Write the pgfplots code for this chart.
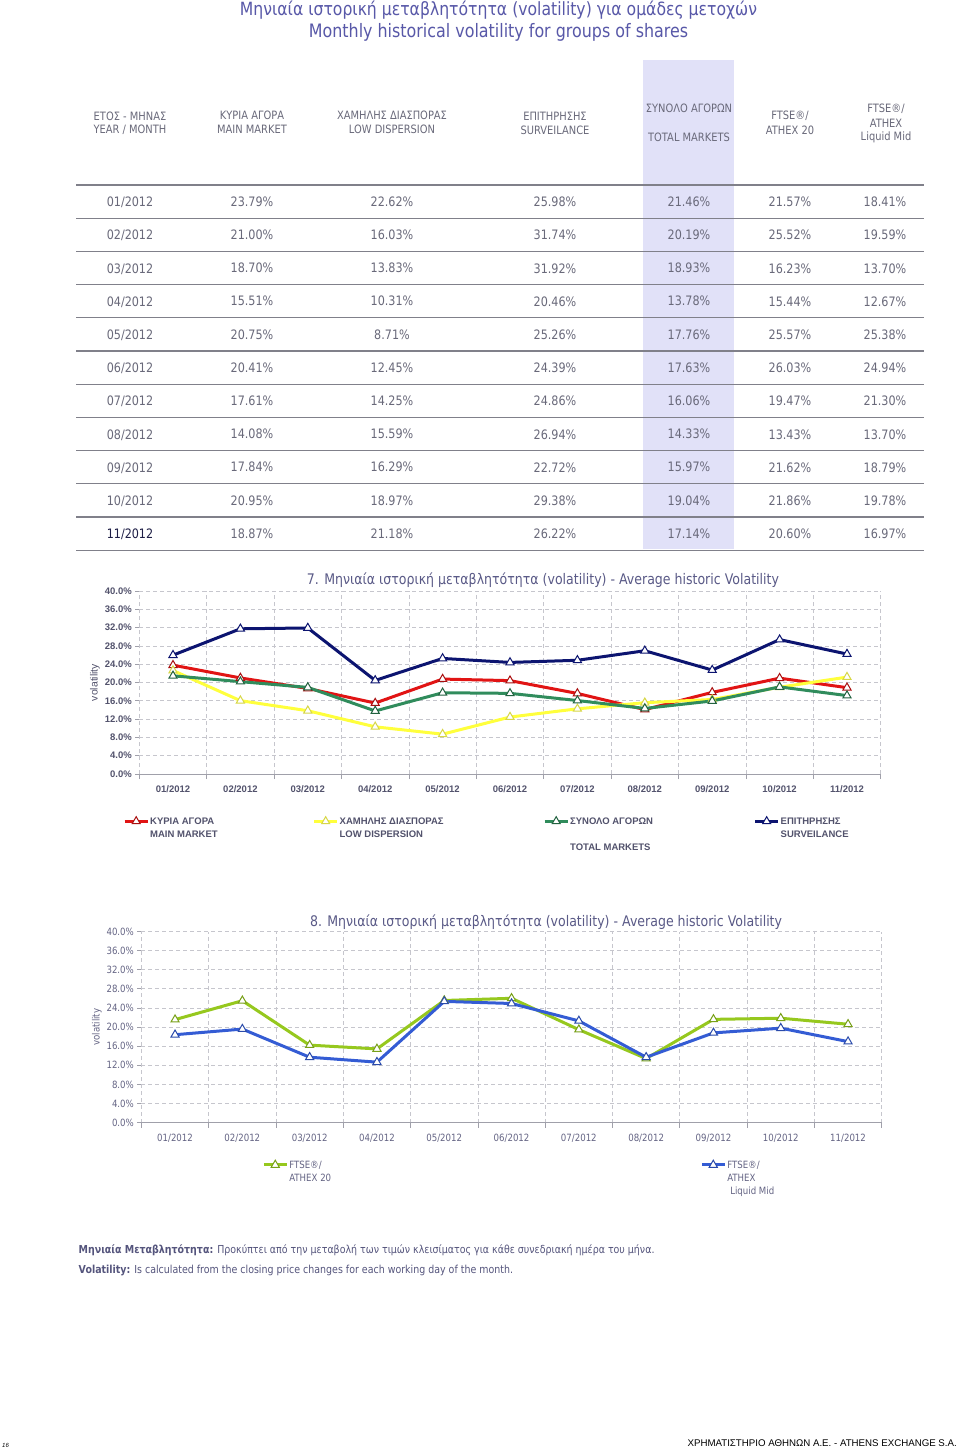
\documentclass[border=0pt]{standalone}
\usepackage{fontspec}
\setmainfont{DejaVu Sans}[FakeStretch=0.86]
\newfontfamily\arialf{Liberation Sans}
\usepackage{pgfplots}
\usepackage{pgfplotstable}
\pgfplotsset{compat=1.18}

\definecolor{ttl}{RGB}{88,88,168}
\definecolor{tabtext}{RGB}{105,105,122}
\definecolor{tabdark}{RGB}{30,30,70}
\definecolor{tabline}{RGB}{128,128,138}
\definecolor{hl}{RGB}{225,225,248}
\definecolor{charttl}{RGB}{90,90,135}
\definecolor{tick7}{RGB}{82,82,108}
\definecolor{tick8}{RGB}{100,100,132}
\definecolor{gridc}{RGB}{198,198,205}
\definecolor{axisc}{RGB}{160,160,170}
\definecolor{note}{RGB}{85,85,125}
\definecolor{red7}{RGB}{225,20,20}
\definecolor{yel7}{RGB}{255,255,60}
\definecolor{yelmk}{RGB}{215,215,70}
\definecolor{grn7}{RGB}{48,140,92}
\definecolor{navy7}{RGB}{12,20,112}
\definecolor{lime8}{RGB}{150,200,30}
\definecolor{blue8}{RGB}{52,92,212}

% month, main market, low dispersion, surveilance, total markets, FTSE/ATHEX 20, Liquid Mid
\pgfplotstableread{
m main  low   surv  total ftse  mid
1 23.79 22.62 25.98 21.46 21.57 18.41
2 21.00 16.03 31.74 20.19 25.52 19.59
3 18.70 13.83 31.92 18.93 16.23 13.70
4 15.51 10.31 20.46 13.78 15.44 12.67
5 20.75 8.71  25.26 17.76 25.57 25.38
6 20.41 12.45 24.39 17.63 26.03 24.94
7 17.61 14.25 24.86 16.06 19.47 21.30
8 14.08 15.59 26.94 14.33 13.43 13.70
9 17.84 16.29 22.72 15.97 21.62 18.79
10 20.95 18.97 29.38 19.04 21.86 19.78
11 18.87 21.18 26.22 17.14 20.60 16.97
}\voldata

\pgfplotsset{
  vol/.style={
    scale only axis,
    /pgf/number format/assume math mode=true,
    xmin=0.5, xmax=11.5, ymin=0, ymax=40,
    xtick={1,...,11},
    xticklabels={01/2012,02/2012,03/2012,04/2012,05/2012,06/2012,07/2012,08/2012,09/2012,10/2012,11/2012},
    minor xtick={0.5,1.5,...,11.5},
    ytick={0,4,...,40},
    yticklabel={\pgfmathprintnumber[fixed,fixed zerofill,precision=1,assume math mode=true]{\tick}\%},
    xminorgrids, ymajorgrids,
    major grid style={draw=gridc, dash pattern=on 4pt off 3pt, line width=0.8pt},
    minor grid style={draw=gridc, dash pattern=on 4pt off 3pt, line width=0.8pt},
    axis x line*=bottom, axis y line*=left,
    x axis line style={draw=axisc, line width=1pt},
    y axis line style={draw=none},
    tick align=outside,
    major tick length=4pt, minor tick length=5pt,
    major x tick style={draw=none},
    minor x tick style={draw=axisc, line width=0.8pt},
    major y tick style={draw=axisc, line width=0.8pt},
    xticklabel style={yshift=-4pt},
    legend image code/.code={\draw[mark repeat=2,mark phase=2] plot coordinates {(0pt,3.4pt)(11.5pt,3.4pt)(23pt,3.4pt)};},
    legend style={draw=none, fill=none, inner sep=0pt, legend columns=4,
      cells={anchor=base west}, nodes={inner sep=0pt, text depth=0pt},
      /tikz/every odd column/.style={column sep=1pt},
      /tikz/every even column/.style={column sep=0pt}},
  },
  ln/.style 2 args={#1, line width=3pt, mark=triangle*, mark size=4.7pt,
    mark options={fill=white, draw=#2, line width=1pt, solid}},
}

\begin{document}
\begin{tikzpicture}[x=1pt,y=1pt]
\path[fill=white, use as bounding box] (0,0) rectangle (960,-1450);

% main title
\node[text=ttl, font=\fontsize{18.2}{22}\selectfont] at (498.5,-10) {Μηνιαία ιστορική μεταβλητότητα (volatility) για ομάδες μετοχών};
\node[text=ttl, font=\fontsize{18.5}{22}\selectfont] at (498.5,-32) {Monthly historical volatility for groups of shares};

% table
\fill[hl] (643,-60) rectangle (734,-549);
\begin{scope}[every node/.style={text=tabtext, font=\fontsize{11.5}{14}\selectfont, align=center}]
\node at (130,-116) {ΕΤΟΣ - ΜΗΝΑΣ};
\node at (130,-130) {YEAR / MONTH};
\node at (252,-115) {ΚΥΡΙΑ ΑΓΟΡΑ};
\node at (252,-129) {MAIN MARKET};
\node at (392,-115) {ΧΑΜΗΛΗΣ ΔΙΑΣΠΟΡΑΣ};
\node at (392,-129) {LOW DISPERSION};
\node at (555,-116) {ΕΠΙΤΗΡΗΣΗΣ};
\node at (555,-130) {SURVEILANCE};
\node at (689,-108) {ΣΥΝΟΛΟ ΑΓΟΡΩΝ};
\node at (689,-137) {TOTAL MARKETS};
\node at (790,-116) {FTSE®/};
\node at (790,-130) {ATHEX 20};
\node at (886,-109) {FTSE®/};
\node at (886,-123) {ATHEX};
\node at (886,-137) {Liquid Mid};
\end{scope}
\foreach \k in {0,...,11}
  \draw[tabline, line width=1.3pt] (76,{-185-33.2*\k}) -- (924,{-185-33.2*\k});
\begin{scope}[every node/.style={text=tabtext, font=\fontsize{13}{15}\selectfont}]
\foreach \a/\b/\c/\d/\e/\f [count=\i from 0] in {
  23.79/22.62/25.98/21.46/21.57/18.41,
  21.00/16.03/31.74/20.19/25.52/19.59,
  18.70/13.83/31.92/18.93/16.23/13.70,
  15.51/10.31/20.46/13.78/15.44/12.67,
  20.75/8.71/25.26/17.76/25.57/25.38,
  20.41/12.45/24.39/17.63/26.03/24.94,
  17.61/14.25/24.86/16.06/19.47/21.30,
  14.08/15.59/26.94/14.33/13.43/13.70,
  17.84/16.29/22.72/15.97/21.62/18.79,
  20.95/18.97/29.38/19.04/21.86/19.78,
  18.87/21.18/26.22/17.14/20.60/16.97}{
  \pgfmathtruncatemacro\mm{\i+1}
  \pgfmathsetmacro\yy{-201.5-33.2*\i}
  \ifnum\i=10 \def\mc{tabdark}\else\def\mc{tabtext}\fi
  \node[text=\mc] at (130,\yy-1) {\ifnum\mm<10 0\fi\mm/2012};
  \node at (252,\yy) {\a\%};
  \node at (392,\yy) {\b\%};
  \node at (555,\yy-0.5) {\c\%};
  \node at (689,\yy) {\d\%};
  \node at (790,\yy-0.5) {\e\%};
  \node at (885,\yy-0.5) {\f\%};
}
\end{scope}

% chart 7
\begin{axis}[vol, at={(139.3pt,-774pt)}, anchor=south west,
  width=741.4pt, height=183pt,
  ticklabel style={font=\arialf\bfseries\fontsize{9.5}{11}\selectfont, text=tick7},
  title={7. Μηνιαία ιστορική μεταβλητότητα (volatility) - Average historic Volatility},
  title style={at={(axis description cs:0.5445,1.0273)}, anchor=center,
    font=\fontsize{14.6}{16}\selectfont, text=charttl},
  ylabel={volatility},
  ylabel style={at={(axis description cs:-0.0598,0.5)}, anchor=center,
    font=\arialf\fontsize{10.4}{12}\selectfont, text=tick7},
  legend style={at={(axis description cs:-0.0220,-0.2321)}, anchor=north west,
    font=\arialf\bfseries\fontsize{9.5}{13}\selectfont, text=tick7},
]
\addplot[ln={red7}{red7!75!black}] table[x=m,y=main]{\voldata};
\addlegendentry{\parbox[t]{162.5pt}{ΚΥΡΙΑ ΑΓΟΡΑ\\MAIN MARKET}}
\addplot[ln={yel7}{yelmk}] table[x=m,y=low]{\voldata};
\addlegendentry{\parbox[t]{203.5pt}{ΧΑΜΗΛΗΣ ΔΙΑΣΠΟΡΑΣ\\LOW DISPERSION}}
\addplot[ln={grn7}{grn7!70!black}] table[x=m,y=total]{\voldata};
\addlegendentry{\parbox[t]{183.5pt}{ΣΥΝΟΛΟ ΑΓΟΡΩΝ\\\mbox{}\\TOTAL MARKETS}}
\addplot[ln={navy7}{navy7}] table[x=m,y=surv]{\voldata};
\addlegendentry{\parbox[t]{100pt}{ΕΠΙΤΗΡΗΣΗΣ\\SURVEILANCE}}
\end{axis}

% chart 8
\begin{axis}[vol, at={(141.4pt,-1122.7pt)}, anchor=south west,
  width=740.3pt, height=191.2pt,
  ticklabel style={font=\fontsize{10}{12}\selectfont, text=tick8},
  title={8. Μηνιαία ιστορική μεταβλητότητα (volatility) - Average historic Volatility},
  title style={at={(axis description cs:0.5466,1.0154)}, anchor=center,
    font=\fontsize{14.6}{16}\selectfont, text=charttl},
  ylabel={volatility},
  ylabel style={at={(axis description cs:-0.06,0.5)}, anchor=center,
    font=\fontsize{10}{12}\selectfont, text=tick8},
  legend columns=2,
  legend style={at={(axis description cs:0.163,-0.195)}, anchor=north west,
    font=\fontsize{10}{13}\selectfont, text=tick8, legend columns=2},
  legend image code/.code={\draw[mark repeat=2,mark phase=2] plot coordinates {(0pt,3.6pt)(11.5pt,3.6pt)(23pt,3.6pt)};},
]
\addplot[ln={lime8}{lime8!80!black}] table[x=m,y=ftse]{\voldata};
\addlegendentry{\parbox[t]{411pt}{FTSE®/\\ATHEX 20}}
\addplot[ln={blue8}{blue8!80!black}] table[x=m,y=mid]{\voldata};
\addlegendentry{\parbox[t]{100pt}{FTSE®/\\ATHEX\\\hspace*{3pt}Liquid Mid}}
\end{axis}

% notes
\node[anchor=west, text=note, font=\fontsize{11}{13}\selectfont, inner sep=0pt] at (78.5,-1250)
  {\textbf{Μηνιαία Μεταβλητότητα:} Προκύπτει από την μεταβολή των τιμών κλεισίματος για κάθε συνεδριακή ημέρα του μήνα.};
\node[anchor=west, text=note, font=\fontsize{11}{13}\selectfont, inner sep=0pt] at (78.5,-1270)
  {\textbf{Volatility:} Is calculated from the closing price changes for each working day of the month.};

% footer
\node[anchor=east, inner sep=0pt, font=\arialf\fontsize{9.7}{12}\selectfont] at (957,-1443)
  {ΧΡΗΜΑΤΙΣΤΗΡΙΟ ΑΘΗΝΩΝ Α.Ε. - ATHENS EXCHANGE S.A.};
\node[anchor=west, inner sep=0pt, font=\arialf\itshape\fontsize{6}{7}\selectfont] at (2,-1445) {16};
\end{tikzpicture}
\end{document}
